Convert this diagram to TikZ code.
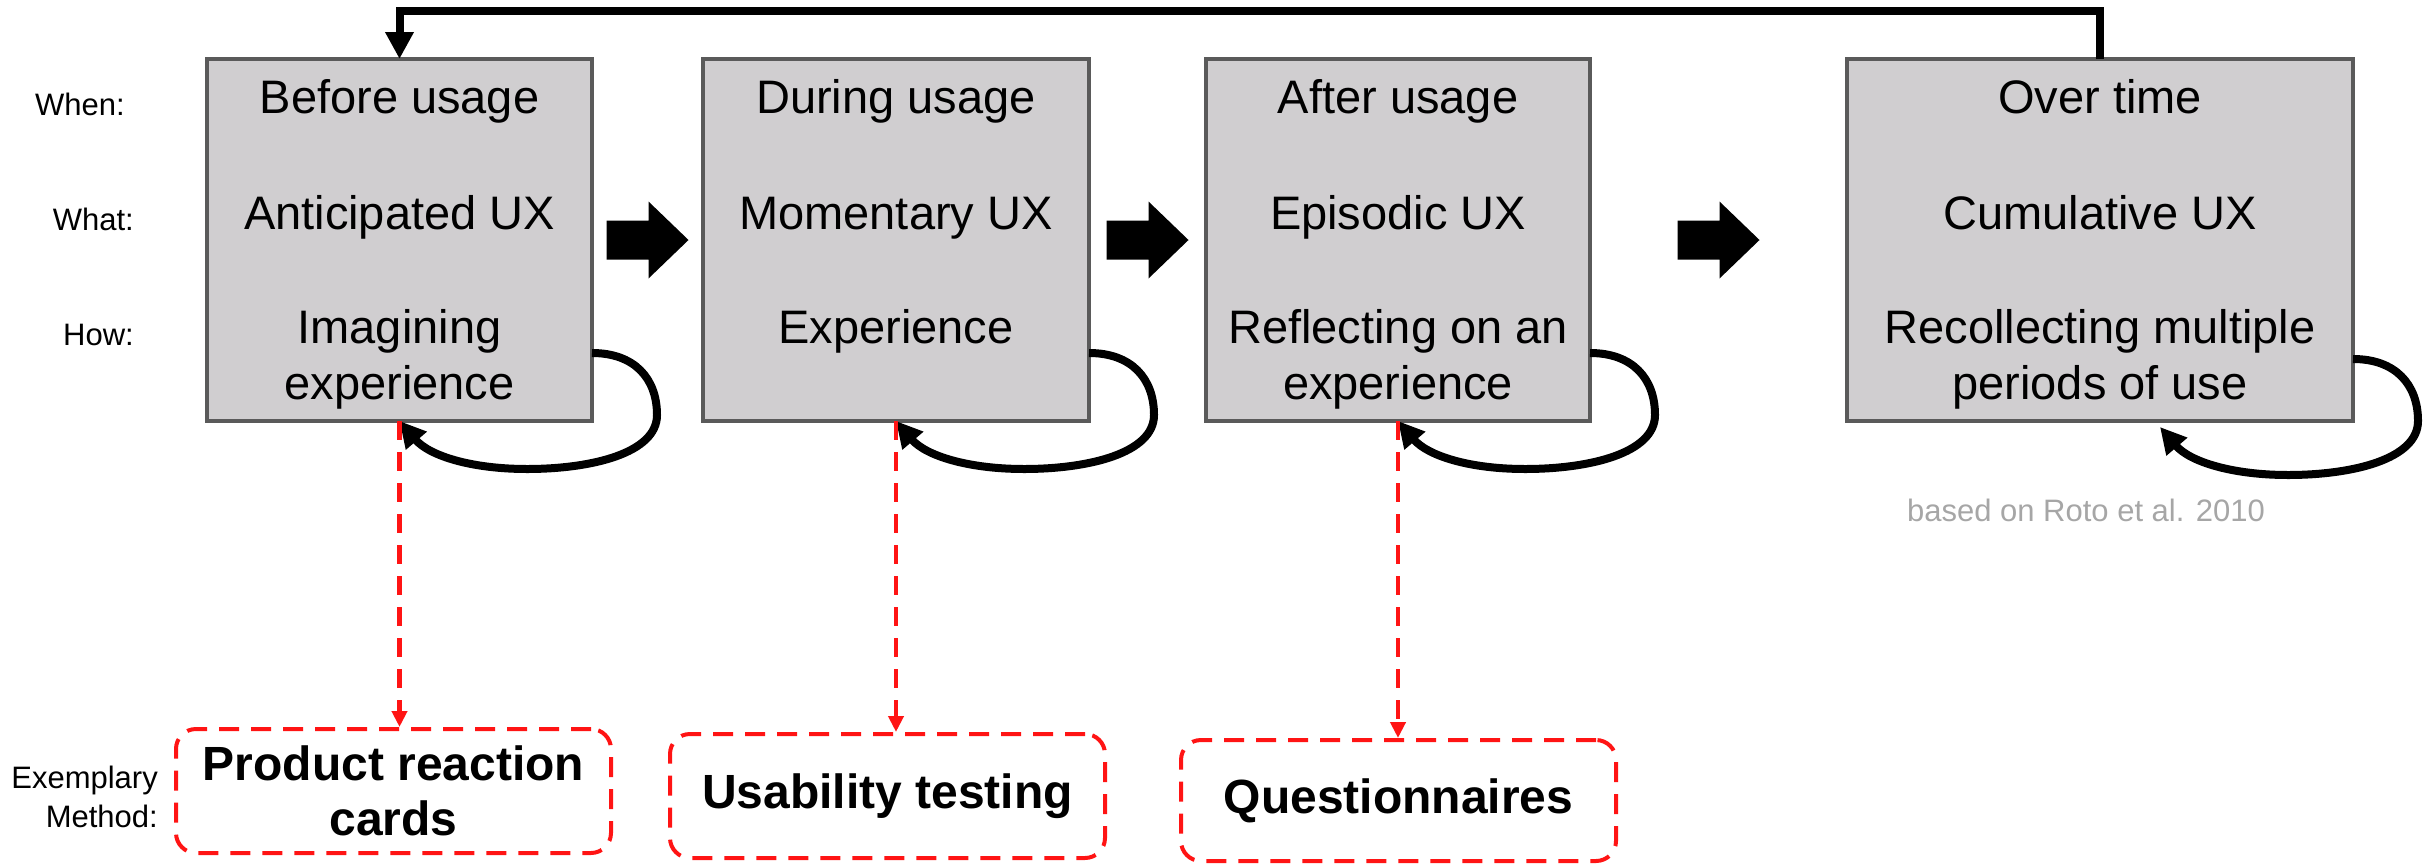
\documentclass[tikz,border=0pt]{standalone}
\usepackage{fontspec}
\setmainfont{Liberation Sans}
\usetikzlibrary{calc,arrows.meta}
\definecolor{boxfill}{RGB}{208,206,208}
\definecolor{boxline}{RGB}{90,90,90}
\definecolor{methodred}{RGB}{255,20,20}
\definecolor{notegray}{RGB}{166,166,166}
\newcommand\setfs[1]{\fontsize{#1}{#1}\selectfont}
% self-referential loop from a point on the right side back to the bottom edge
\newcommand\uxloop[2]{%
  \draw[loopline] (#1) .. controls ($(#1)+(42,0)$) and ($(#1)+(65,25)$) ..
    ($(#1)+(65,62)$) .. controls ($(#1)+(65,100)$) and ($(#1)+(0,116)$) ..
    ($(#1)+(-65,116)$) .. controls ($(#1)+(-120,116)$) and ($(#2)+(30,35)$) .. (#2);}
\begin{document}
\begin{tikzpicture}[x=1pt,y=-1pt,
  phase/.style={draw=boxline, line width=4pt, fill=boxfill, minimum height=362pt,
    inner sep=0pt, outer sep=0pt},
  ptext/.style={anchor=base, inner sep=0pt, font=\setfs{47}},
  rowlabel/.style={anchor=base east, inner sep=0pt, font=\setfs{31}},
  method/.style={draw=methodred, line width=4pt, dash pattern=on 20pt off 12pt,
    rounded corners=20pt, minimum width=435pt, minimum height=124pt, inner sep=0pt,
    align=center, font=\bfseries\fontsize{48}{55}\selectfont},
  flow/.pic={\fill[black] (-41,-19.5) -- (1,-19.5) -- (1,-38.5) -- (41,0)
    -- (1,38.5) -- (1,19.5) -- (-41,19.5) -- cycle;},
  loopline/.style={line width=8pt, -{Triangle[length=26pt,width=26pt]}},
  feedback/.style={line width=8pt, -{Triangle[length=27pt,width=27pt]}},
  methodlink/.style={draw=methodred, line width=4.5pt, dash pattern=on 19pt off 12pt,
    -{Triangle[length=16pt,width=15pt]}}]
\useasboundingbox (0,0) rectangle (2433,865);

% row labels
\node[rowlabel] (lwhen) at (125,115) {When:};
\node[rowlabel] (lwhat) at (134,230) {What:};
\node[rowlabel] (lhow)  at (134,345) {How:};

% phase boxes
\node[phase, minimum width=385pt] (b1) at (399.5,240) {};
\node[phase, minimum width=386pt] (b2) at (896,240) {};
\node[phase, minimum width=384pt] (b3) at (1398,240) {};
\node[phase, minimum width=506pt] (b4) at (2100,240) {};

\node[ptext] (b1r1) at ($(b1.north)+(0,54)$)  {Before usage};
\node[ptext] (b1r2) at ($(b1.north)+(0,170)$) {Anticipated UX};
\node[ptext] (b1r3) at ($(b1.north)+(0,284)$) {Imagining};
\node[ptext] (b1r4) at ($(b1.north)+(0,340)$) {experience};

\node[ptext] (b2r1) at ($(b2.north)+(0,54)$)  {During usage};
\node[ptext] (b2r2) at ($(b2.north)+(0,170)$) {Momentary UX};
\node[ptext] (b2r3) at ($(b2.north)+(0,284)$) {Experience};

\node[ptext] (b3r1) at ($(b3.north)+(0,54)$)  {After usage};
\node[ptext] (b3r2) at ($(b3.north)+(0,170)$) {Episodic UX};
\node[ptext] (b3r3) at ($(b3.north)+(0,284)$) {Reflecting on an};
\node[ptext] (b3r4) at ($(b3.north)+(0,340)$) {experience};

\node[ptext] (b4r1) at ($(b4.north)+(0,54)$)  {Over time};
\node[ptext] (b4r2) at ($(b4.north)+(0,170)$) {Cumulative UX};
\node[ptext] (b4r3) at ($(b4.north)+(0,284)$) {Recollecting multiple};
\node[ptext] (b4r4) at ($(b4.north)+(0,340)$) {periods of use};

% block arrows between phases
\coordinate (a12) at ($(b1.east)!0.5!(b2.west)$);
\coordinate (a23) at ($(b2.east)!0.5!(b3.west)$);
\coordinate (a34) at ($(b3.east)!0.5!(b4.west)$);
\pic at (a12) {flow};
\pic at (a23) {flow};
\pic at (a34) {flow};

% feedback from the last phase to the first
\coordinate (fbtop) at (0,11);
\draw[feedback] (b4.north) -- (b4.north |- fbtop) -| (b1.north);

% loops on each phase
\coordinate (l1) at ($(b1.south east)+(0,-68)$);
\coordinate (l2) at ($(b2.south east)+(0,-68)$);
\coordinate (l3) at ($(b3.south east)+(0,-68)$);
\coordinate (l4) at ($(b4.south east)+(0,-62)$);
\coordinate (l4e) at ($(b4.south)+(60,6)$);
\uxloop{l1}{b1.south}
\uxloop{l2}{b2.south}
\uxloop{l3}{b3.south}
\uxloop{l4}{l4e}

\node[anchor=base, inner sep=0pt, font=\setfs{31}, text=notegray] (src) at (2086,521)
  {based on Roto et al. 2010};

% exemplary methods
\node[rowlabel] (lex1) at (158,788) {Exemplary};
\node[rowlabel] (lex2) at (158,827) {Method:};
\node[method] (m1) at (393.5,791) {Product reaction\\cards};
\node[method] (m2) at (887.5,796) {Usability testing};
\node[method, minimum height=121pt] (m3) at (1398.5,800.5) {Questionnaires};

\draw[methodlink] (b1.south) -- (b1.south |- m1.north);
\draw[methodlink] (b2.south) -- (b2.south |- m2.north);
\draw[methodlink] (b3.south) -- (b3.south |- m3.north);
\end{tikzpicture}
\end{document}
